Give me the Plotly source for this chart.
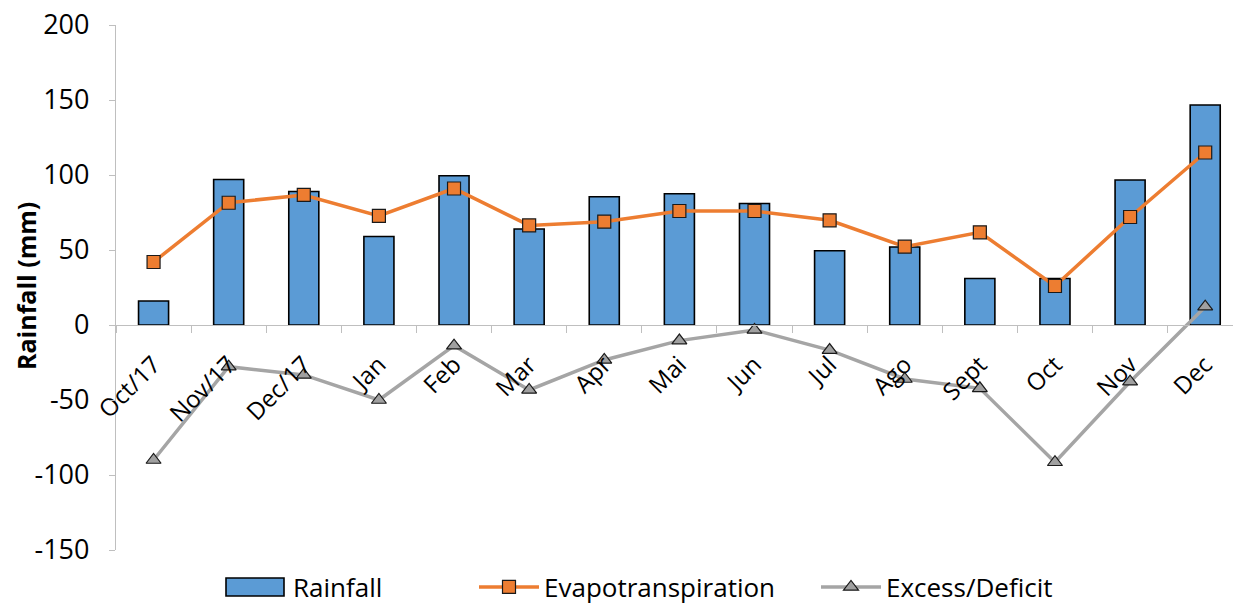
import plotly.graph_objects as go

months = ["Oct/17", "Nov/17", "Dec/17", "Jan", "Feb", "Mar", "Apr", "Mai",
          "Jun", "Jul", "Ago", "Sept", "Oct", "Nov", "Dec"]
rainfall = [16, 97, 89, 59, 99.5, 64, 85.5, 87.5, 81, 49.5, 52, 31, 31, 96.7, 146.7]
evapotranspiration = [42, 81.5, 86.7, 72.7, 91, 66.4, 68.9, 76, 76, 69.8, 52.2, 61.8, 26, 72, 115]
excess_deficit = [-90, -27.8, -33.3, -50, -13.8, -43.3, -23.3, -10.4, -3.3, -16.7, -36, -42.2, -91.5, -37.8, 12.2]
y_ticks = [-150, -100, -50, 0, 50, 100, 150, 200]
y_tick_text = [str(v) for v in y_ticks]

FONT = "Open Sans"
W, H = 1233, 605
L, R, T, B = 116, 0, 25, 55
Y_MIN, Y_MAX = -150, 200
PLOT_W = W - L - R
PLOT_H = H - T - B
BAR_BLUE = "#5B9BD5"
LEGEND_Y = 587  # pixel row of the legend line


def paper_x(px):
    return (px - L) / PLOT_W


def paper_y(py):
    return (H - B - py) / PLOT_H


fig = go.Figure()

fig.add_trace(go.Bar(
    x=months, y=rainfall, name="Rainfall", width=0.4, showlegend=False,
    marker=dict(color=BAR_BLUE, line=dict(color="#000000", width=1.6)),
))
fig.add_trace(go.Scatter(
    x=months, y=evapotranspiration, name="Evapotranspiration", mode="lines+markers",
    legend="legend2",
    line=dict(color="#ED7D31", width=3.5),
    marker=dict(symbol="square", size=13, color="#ED7D31",
                line=dict(color="#1a1a1a", width=1.2)),
))
fig.add_trace(go.Scatter(
    x=months, y=excess_deficit, name="Excess/Deficit", mode="lines+markers",
    legend="legend3",
    line=dict(color="#A5A5A5", width=3.5),
    marker=dict(symbol="triangle-up", size=13, color="#A0A0A0",
                line=dict(color="#1a1a1a", width=1.2)),
))

# place the category axis on the zero line
zero_pos = (0 - Y_MIN) / (Y_MAX - Y_MIN)

legend_common = dict(
    orientation="h", xanchor="left", yref="container", y=(H - LEGEND_Y) / H,
    yanchor="middle", font=dict(size=26, family=FONT), itemwidth=60,
    bgcolor="rgba(0,0,0,0)",
)

# wide swatch + label for the bar series legend entry
rain_swatch = dict(
    type="rect", xref="paper", yref="paper",
    x0=paper_x(226), x1=paper_x(284),
    y0=paper_y(LEGEND_Y + 9), y1=paper_y(LEGEND_Y - 9),
    fillcolor=BAR_BLUE, line=dict(color="#000000", width=1.6),
)
rain_label = dict(
    text="Rainfall", xref="paper", yref="paper",
    x=paper_x(291), y=paper_y(LEGEND_Y),
    xanchor="left", yanchor="middle", showarrow=False,
    font=dict(size=26, family=FONT),
)

fig.update_layout(
    width=W, height=H,
    margin=dict(l=L, r=R, t=T, b=B, autoexpand=False),
    plot_bgcolor="white", paper_bgcolor="white",
    font=dict(family=FONT, color="#000000"),
    showlegend=True,
    legend2=dict(x=paper_x(474), **legend_common),
    legend3=dict(x=paper_x(816), **legend_common),
    bargap=0.6,
    xaxis=dict(
        type="category", range=[-0.5, 14.37],
        anchor="free", position=zero_pos,
        showline=True, linecolor="#BFBFBF", linewidth=1.2,
        ticks="outside", ticklen=7, tickcolor="#BFBFBF", tickson="boundaries",
        tickangle=-45, tickfont=dict(size=24, family=FONT),
        ticklabelstandoff=15,
        showgrid=False, zeroline=False,
    ),
    yaxis=dict(
        range=[Y_MIN, Y_MAX], tickvals=y_ticks, ticktext=y_tick_text,
        showline=True, linecolor="#BFBFBF", linewidth=1.2,
        ticks="outside", ticklen=6, tickcolor="#BFBFBF",
        ticklabelstandoff=14,
        tickfont=dict(size=27, family=FONT),
        showgrid=False, zeroline=False,
    ),
    shapes=[rain_swatch],
    annotations=[
        dict(
            text="<b>Rainfall (mm)</b>", textangle=-90,
            xref="paper", yref="paper",
            x=paper_x(26), y=paper_y(286),
            xanchor="center", yanchor="middle", showarrow=False,
            font=dict(size=25, family=FONT),
        ),
        rain_label,
    ],
)

fig.write_html("out.html")
